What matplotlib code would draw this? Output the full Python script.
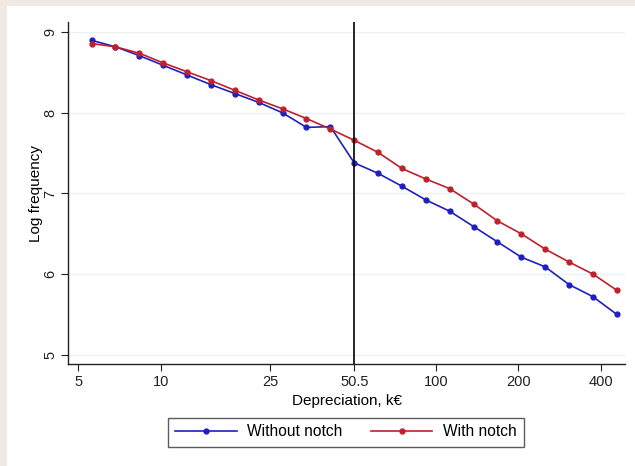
import matplotlib
matplotlib.use('Agg')
import matplotlib.pyplot as plt
from matplotlib.patches import Rectangle

plt.rcParams['font.family'] = ['Liberation Sans', 'DejaVu Sans']

# bin centres (k€), log-spaced around the 50.5 notch
depreciation = [5.60, 6.83, 8.35, 10.19, 12.45, 15.21, 18.58, 22.69, 27.72, 33.85,
                41.35, 50.5, 61.68, 75.34, 92.02, 112.39, 137.27, 167.67, 204.79,
                250.13, 305.51, 373.15, 455.77]
without_notch = [8.90, 8.82, 8.71, 8.59, 8.47, 8.35, 8.24, 8.13, 8.00, 7.82,
                 7.83, 7.38, 7.25, 7.09, 6.92, 6.78, 6.59, 6.40, 6.21,
                 6.09, 5.87, 5.72, 5.50]
with_notch = [8.86, 8.82, 8.74, 8.62, 8.51, 8.40, 8.28, 8.16, 8.05, 7.93,
              7.80, 7.66, 7.51, 7.31, 7.18, 7.06, 6.87, 6.66, 6.50,
              6.31, 6.15, 6.00, 5.80]
xticks = [5, 10, 25, 50.5, 100, 200, 400]
xtick_labels = ['5', '10', '25', '50.5', '100', '200', '400']
yticks = [5, 6, 7, 8, 9]
notch = 50.5

fig = plt.figure(figsize=(6.35, 4.66), dpi=100)
fig.patch.set_facecolor('#f1e9e4')
fig.patches.append(Rectangle((7/635, 0), 1, 1 - 6/466, transform=fig.transFigure,
                             facecolor='white', edgecolor='none', zorder=-10))

ax = fig.add_axes([0.1076, 0.2182, 0.9843 - 0.1076, 0.9528 - 0.2182])
ax.set_facecolor('white')

for y in yticks:
    ax.axhline(y, color='#eaf2f3', lw=1.0, zorder=0)

ax.plot(depreciation, without_notch, color='#1f1fbf', lw=1.2, marker='o', ms=3.5,
        label='Without notch', zorder=3)
ax.plot(depreciation, with_notch, color='#c0202a', lw=1.2, marker='o', ms=3.5,
        label='With notch', zorder=3)
ax.axvline(notch, color='black', lw=1.2, zorder=4)

ax.set_xscale('log')
ax.set_xlim(4.60, 488.6)
ax.set_ylim(4.88, 9.128)
ax.set_xticks(xticks)
ax.set_xticklabels(xtick_labels)
ax.minorticks_off()
ax.set_yticks(yticks)
ax.set_yticklabels([str(v) for v in yticks], rotation=90, va='center')
ax.tick_params(axis='both', direction='out', length=5, width=0.8, labelsize=10.5,
               colors='#222222')
ax.tick_params(axis='x', pad=3)
ax.tick_params(axis='y', pad=3)

for s in ['top', 'right']:
    ax.spines[s].set_visible(False)
for s in ['left', 'bottom']:
    ax.spines[s].set_linewidth(1.0)
    ax.spines[s].set_color('#222222')

ax.set_xlabel('Depreciation, k€', fontsize=11, labelpad=3)
ax.set_ylabel('Log frequency', fontsize=11, labelpad=0)

leg = fig.legend(loc='center', bbox_to_anchor=(346/635, 1 - 432/466), ncol=2,
                 fontsize=11.2, frameon=True, fancybox=False, handlelength=3.95,
                 columnspacing=1.8, handletextpad=0.7, borderpad=0.45)
leg.get_frame().set_edgecolor('#333333')
leg.get_frame().set_linewidth(1.0)

fig.savefig('out.png', dpi=100, facecolor=fig.get_facecolor())
